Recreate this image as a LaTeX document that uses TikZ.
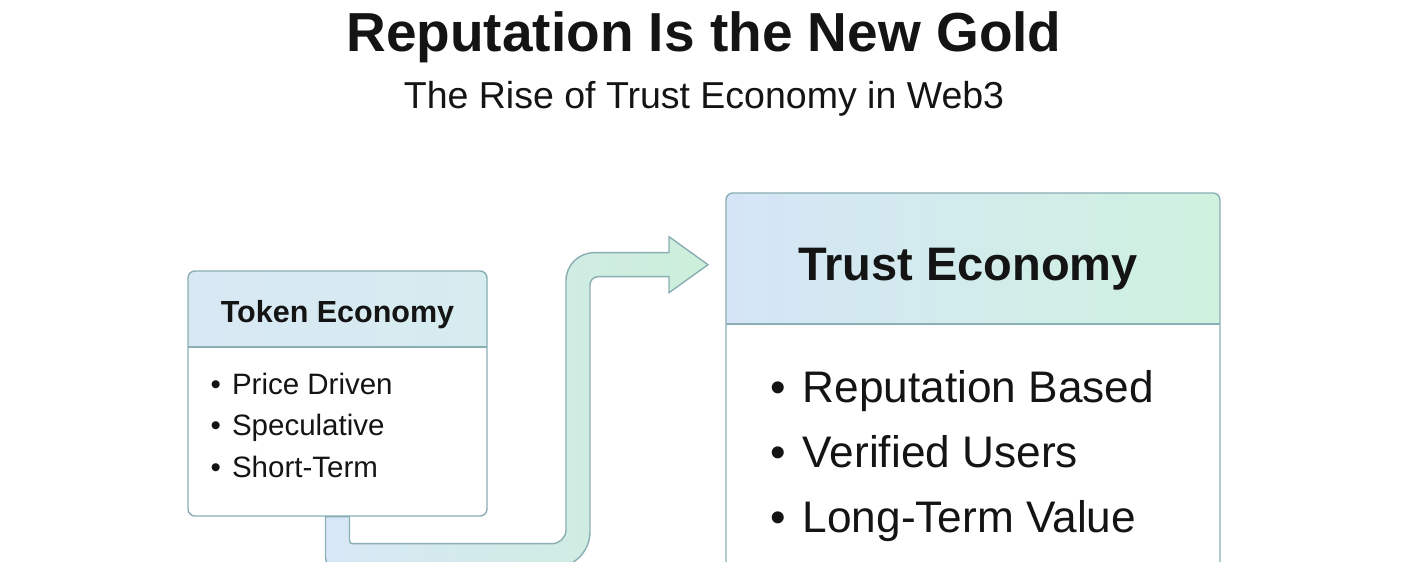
\documentclass[tikz,border=0pt]{standalone}
\usepackage{fontspec}
\setmainfont{Liberation Sans}
\definecolor{edgeteal}{HTML}{8AAEB3}
\definecolor{headblue}{HTML}{D5E5F7}
\definecolor{headgreen}{HTML}{CFF2DF}
\definecolor{tokblue}{HTML}{D8E8F4}
\definecolor{tokteal}{HTML}{D6ECEF}
\definecolor{bandblue}{HTML}{D8E7F6}
\definecolor{bandgreen}{HTML}{CBEFD9}
\usetikzlibrary{calc, backgrounds}

\begin{document}
\begin{tikzpicture}[x=1pt, y=1pt, every node/.style={text=black!92}]
  \tikzset{
    ecobox/.style={draw=edgeteal, line width=1.4pt, fill=white,
           rounded corners=7pt, inner sep=0pt},
    tokitem/.style={anchor=base west, inner sep=0pt,
           font=\fontsize{29.5}{36}\selectfont},
    trustitem/.style={anchor=base west, inner sep=0pt,
           font=\fontsize{44.2}{52}\selectfont},
    flowband/.style={draw=edgeteal, line width=1.4pt,
           left color=bandblue, right color=bandgreen}
  }
  \useasboundingbox (0,0) rectangle (1408,562);
  \clip (0,0) rectangle (1408,562);
  \node[anchor=base, font=\bfseries\fontsize{55}{60}\selectfont] (title) at (704,510) {Reputation Is the New Gold};
  \node[anchor=base, font=\fontsize{37.5}{42}\selectfont] (subtitle) at (704,453) {The Rise of Trust Economy in Web3};

  \node[ecobox, minimum width=299pt, minimum height=245pt,
        path picture={
          \shade[sharp corners, left color=tokblue, right color=tokteal]
            (path picture bounding box.north west) rectangle ([yshift=-76pt]path picture bounding box.north east);
          \draw[edgeteal, line width=1.4pt]
            ([yshift=-76pt]path picture bounding box.north west) -- ([yshift=-76pt]path picture bounding box.north east);
        }] (token) at (337.5,168.5) {};
  \node[anchor=base, font=\bfseries\fontsize{30.5}{36}\selectfont] (tokhead) at ([yshift=-52pt]token.north) {Token Economy};
  \foreach \txt [count=\i] in {Price Driven, Speculative, Short-Term}
    \node[tokitem] (tok\i) at ([xshift=23pt, yshift={-124pt-41.5pt*(\i-1)}]token.north west) {\textbullet\hspace{0.38em}\txt};

  \node[ecobox, minimum width=494pt, minimum height=384pt,
        path picture={
          \shade[sharp corners, left color=headblue, right color=headgreen]
            (path picture bounding box.north west) rectangle ([yshift=-131pt]path picture bounding box.north east);
          \draw[edgeteal, line width=1.4pt]
            ([yshift=-131pt]path picture bounding box.north west) -- ([yshift=-131pt]path picture bounding box.north east);
        }] (trust) at (973,177) {};
  \node[anchor=base, font=\bfseries\fontsize{47}{54}\selectfont] (trusthead) at ([xshift=-5pt, yshift=-88pt]trust.north) {Trust Economy};
  \foreach \txt [count=\i] in {Reputation Based, Verified Users, Long-Term Value}
    \node[trustitem] (trust\i) at ([xshift=45pt, yshift={-210pt-65pt*(\i-1)}]trust.north west) {\textbullet\hspace{0.38em}\txt};

  \begin{scope}[on background layer]
    \path[flowband] ([xshift=-12pt]token.south) -- ++(0,-41)
      arc[start angle=180, end angle=270, radius=10] -- ++(218.5,0)
      arc[start angle=270, end angle=360, radius=36] -- ++(0,247)
      arc[start angle=180, end angle=90, radius=8] -- ++(71,0)
      -- ++(0,-16) -- ++(39,28) -- ++(-39,28) -- ++(0,-16) -- ++(-75,0)
      arc[start angle=90, end angle=180, radius=28] -- ++(0,-249)
      arc[start angle=0, end angle=-90, radius=14] -- ++(-199.5,0)
      arc[start angle=270, end angle=180, radius=3]
      -- ([xshift=12pt]token.south) -- cycle;
  \end{scope}
\end{tikzpicture}
\end{document}
